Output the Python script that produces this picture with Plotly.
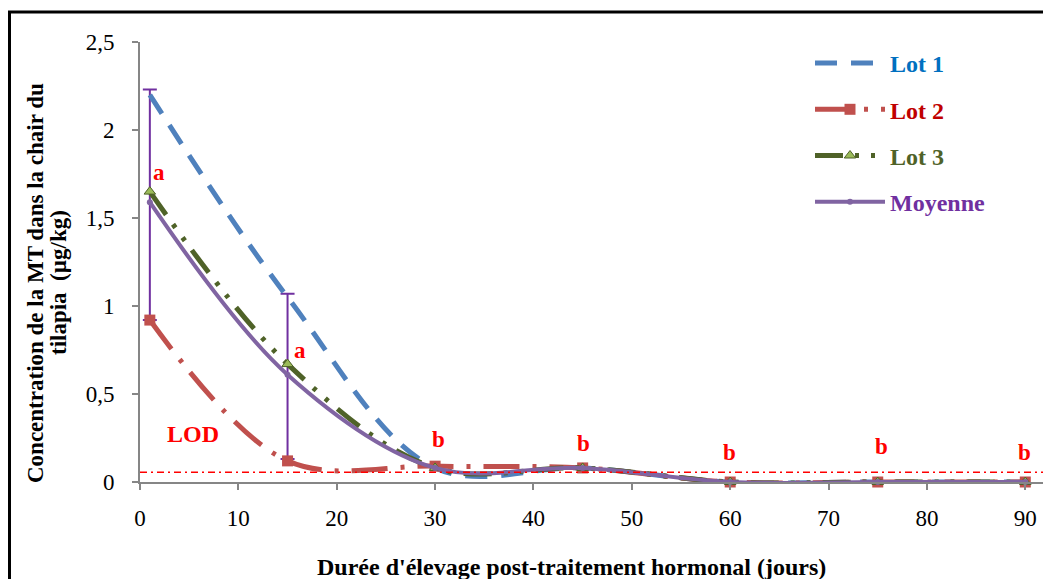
import plotly.graph_objects as go

# Sampling days after hormonal treatment
jours = [1, 15, 30, 45, 60, 75, 90]

# MT concentration in tilapia flesh (µg/kg)
lot1 = [2.20, 1.05, 0.08, 0.08, 0.0, 0.0, 0.0]
lot2 = [0.92, 0.12, 0.09, 0.08, 0.0, 0.0, 0.0]
lot3 = [1.65, 0.67, 0.08, 0.08, 0.0, 0.0, 0.0]
moyenne = [1.59, 0.61, 0.08, 0.08, 0.0, 0.0, 0.0]
err_plus = [0.64, 0.46, 0.0, 0.0, 0.0, 0.0, 0.0]
err_minus = [0.67, 0.48, 0.0, 0.0, 0.0, 0.0, 0.0]

# Limit of detection
lod = 0.055

# Statistical group letters
lettres = ["a", "a", "b", "b", "b", "b", "b"]
lettres_x = [1.9, 16.3, 30.3, 45.1, 59.9, 75.4, 89.9]
lettres_y = [1.76, 0.75, 0.24, 0.22, 0.17, 0.20, 0.17]

y_ticks = [0, 0.5, 1, 1.5, 2, 2.5]
y_ticktext = ["0", "0,5", "1", "1,5", "2", "2,5"]
x_ticks = [0, 10, 20, 30, 40, 50, 60, 70, 80, 90]

y_title_lines = ["Concentration de la MT dans la chair du", "tilapia  (µg/kg)"]
x_title = "Durée d'élevage post-traitement hormonal (jours)"

SERIF = "Liberation Serif, Times New Roman, serif"

# plot-area geometry in pixels, used to place paper-referenced items
L, R, T, B = 140, 1043, 42, 482
PW, PH = R - L, B - T


def px(xp):
    return (xp - L) / PW


def py(yp):
    return (B - yp) / PH


fig = go.Figure()

# Error bars of the mean (drawn beneath the series)
fig.add_trace(go.Scatter(
    x=jours[:2], y=moyenne[:2], mode="markers",
    marker=dict(size=1, color="rgba(0,0,0,0)"),
    error_y=dict(type="data", symmetric=False, array=err_plus[:2],
                 arrayminus=err_minus[:2], color="#7030A0",
                 thickness=2, width=7),
    showlegend=False, hoverinfo="skip", cliponaxis=False,
))

fig.add_trace(go.Scatter(
    x=jours, y=lot1, mode="lines",
    name='<b><span style="color:#0070C0">Lot 1</span></b>',
    line=dict(color="#4F81BD", width=5, dash="22px,14px",
              shape="spline", smoothing=1),
    legendgroup="g1", cliponaxis=False,
))
fig.add_trace(go.Scatter(
    x=jours, y=lot2, mode="lines+markers",
    name='<b><span style="color:#C00000">Lot 2</span></b>',
    line=dict(color="#C0504D", width=5, dash="36px,13px,4px,13px",
              shape="spline", smoothing=1),
    marker=dict(symbol="square", size=11, color="#C0504D"),
    legendgroup="g2", cliponaxis=False,
))
fig.add_trace(go.Scatter(
    x=jours, y=lot3, mode="lines+markers",
    name='<b><span style="color:#4F6228">Lot 3</span></b>',
    line=dict(color="#4F6228", width=5, dash="28px,12px,4px,12px,4px,12px",
              shape="spline", smoothing=1),
    marker=dict(symbol="triangle-up", size=10, color="#9BBB59",
                line=dict(color="#4F6228", width=1)),
    legendgroup="g3", cliponaxis=False,
))
fig.add_trace(go.Scatter(
    x=jours, y=moyenne, mode="lines+markers",
    name='<b><span style="color:#7030A0">Moyenne</span></b>',
    line=dict(color="#8064A2", width=4, shape="spline", smoothing=1),
    marker=dict(symbol="circle", size=6, color="#8064A2"),
    legendgroup="g4", cliponaxis=False,
))

# LOD reference line
fig.add_shape(type="line", xref="paper", yref="y", x0=0, x1=1, y0=lod, y1=lod,
              line=dict(color="#FF0000", width=1.5, dash="7px,4px,2px,4px"))

fig.add_annotation(x=5.4, y=0.27, text="<b>LOD</b>", showarrow=False,
                   font=dict(family=SERIF, size=24, color="#FF0000"))

for lx, ly, lt in zip(lettres_x, lettres_y, lettres):
    fig.add_annotation(x=lx, y=ly, text=f"<b>{lt}</b>", showarrow=False,
                       font=dict(family=SERIF, size=23, color="#FF0000"))

# Axis titles (y title set as two tightly spaced rotated lines)
for xp, line_text in zip([35, 58], y_title_lines):
    fig.add_annotation(xref="paper", yref="paper", x=px(xp), y=py(283),
                       xanchor="center", yanchor="middle",
                       text=f"<b>{line_text}</b>",
                       textangle=-90, showarrow=False,
                       font=dict(family=SERIF, size=23, color="#000000"))
fig.add_annotation(xref="paper", yref="paper", x=px(571), y=py(567),
                   xanchor="center", yanchor="middle",
                   text=f"<b>{x_title}</b>",
                   showarrow=False,
                   font=dict(family=SERIF, size=24, color="#000000"))

# Outer frame
fig.add_shape(type="rect", xref="paper", yref="paper",
              x0=px(9.5), x1=px(1080), y0=py(650), y1=py(12),
              line=dict(color="#000000", width=3))

fig.update_layout(
    width=1043, height=579,
    margin=dict(l=L, r=1043 - R, t=T, b=579 - B),
    paper_bgcolor="white", plot_bgcolor="white",
    font=dict(family=SERIF, size=23, color="#000000"),
    legend=dict(x=px(810), y=py(41), xanchor="left", yanchor="top",
                itemwidth=70, tracegroupgap=12, bgcolor="rgba(0,0,0,0)",
                font=dict(family=SERIF, size=24)),
    xaxis=dict(range=[0, 91.8], tickvals=x_ticks, showgrid=False, zeroline=False,
               showline=True, linecolor="#868686", linewidth=2,
               ticks="outside", ticklen=6, tickcolor="#868686", tickwidth=2,
               ticklabelstandoff=8),
    yaxis=dict(range=[0, 2.5], tickvals=y_ticks, ticktext=y_ticktext, showgrid=False,
               zeroline=False, showline=True, linecolor="#868686", linewidth=2,
               ticks="outside", ticklen=6, tickcolor="#868686", tickwidth=2,
               ticklabelstandoff=13),
)

fig.write_html("out.html")
